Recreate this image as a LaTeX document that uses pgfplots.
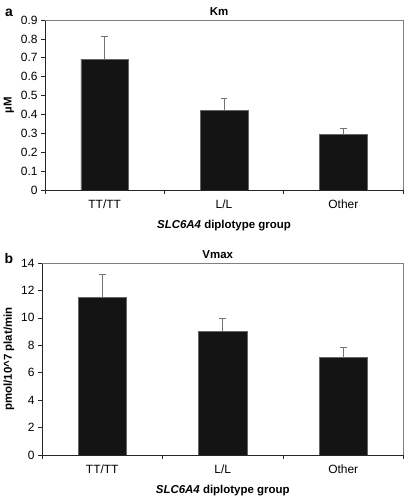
\documentclass[border=0pt]{standalone}
\usepackage{pgfplots}
\pgfplotsset{compat=1.18}
\usepackage{fontspec}
\setmainfont{Liberation Sans}
\begin{document}
\begin{tikzpicture}
\useasboundingbox (0bp,0bp) rectangle (409bp,498bp);
\pgfplotsset{
 panel/.style={
  ybar, bar width=0.4, scale only axis,
  axis x line=bottom, axis y line=left, axis line style={-, line width=0.8bp, black!85},
  xmin=-0.5, xmax=2.5, ymin=0,
  xtick={-0.5,0.5,1.5,2.5}, xticklabels={},
  extra x ticks={0,1,2}, extra x tick labels={TT/TT,L/L,Other},
  extra x tick style={major tick length=0pt},
  tick align=outside, major tick length=4bp,
  tick style={line width=0.6bp, black!85},
  ticklabel style={font=\fontsize{12}{14}\selectfont},
  xticklabel style={yshift=-6bp},
  /pgf/number format/assume math mode=true,
  title style={font=\bfseries\fontsize{11.5}{13}\selectfont, yshift=-5bp, xshift=-5bp},
  label style={font=\bfseries\fontsize{11.5}{13}\selectfont},
  xlabel={\textit{SLC6A4} diplotype group},
  xlabel style={yshift=-1bp},
  after end axis/.code={
    \draw[black!50, line width=0.7bp] (rel axis cs:0,1) -- (rel axis cs:1,1) -- (rel axis cs:1,0);
  },
 },
 barstyle/.style={fill=black!92, draw=black!60, line width=0.5bp,
  error bars/.cd, y dir=plus, y explicit,
  error bar style={black!55, line width=0.7bp},
  error mark options={rotate=90, mark size=3.4bp, black!55, line width=0.7bp}},
}
\begin{axis}[panel, at={(45bp,308bp)}, anchor=south west, width=358bp, height=170bp,
  ymax=0.9, ytick={0,0.1,...,0.9},
  yticklabel style={/pgf/number format/fixed, /pgf/number format/precision=1},
  title={Km}, ylabel={µM}]
\addplot[barstyle] coordinates {(0,0.693) +- (0,0.12) (1,0.42) +- (0,0.065) (2,0.295) +- (0,0.033)};
\end{axis}
\begin{axis}[panel, at={(42bp,43bp)}, anchor=south west, width=361.5bp, height=192bp,
  ymax=14, ytick={0,2,...,14},
  title={Vmax}, ylabel={pmol/10\textasciicircum 7 plat/min}]
\addplot[barstyle] coordinates {(0,11.47) +- (0,1.7) (1,9.03) +- (0,0.92) (2,7.1) +- (0,0.74)};
\end{axis}
\node[font=\bfseries\fontsize{14}{16}\selectfont] at (9bp,485bp) {a};
\node[font=\bfseries\fontsize{14}{16}\selectfont] at (9bp,239bp) {b};
\end{tikzpicture}
\end{document}
